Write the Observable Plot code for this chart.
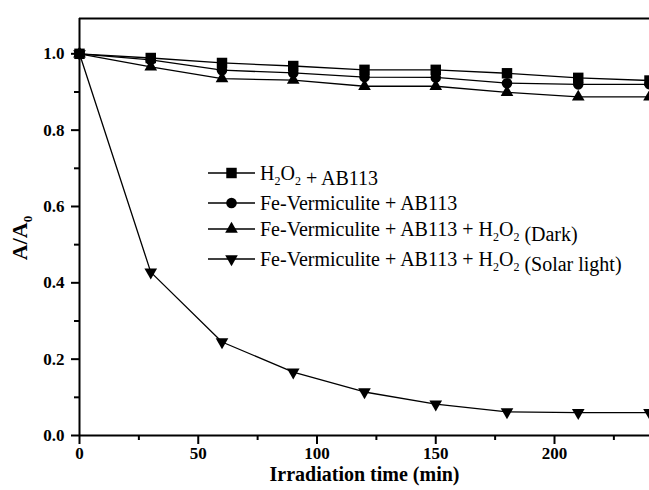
<!DOCTYPE html>
<html>
<head>
<meta charset="utf-8">
<script src="https://cdn.jsdelivr.net/npm/d3@7"></script>
<script src="https://cdn.jsdelivr.net/npm/@observablehq/plot@0.6"></script>
<style>
  html, body { margin: 0; padding: 0; background: #fff; }
  #chart { width: 649px; height: 490px; }
</style>
</head>
<body>
<div id="chart"></div>
<script>
// ---- data ----
const times = [0, 30, 60, 90, 120, 150, 180, 210, 240];
const seriesLabels = [
  "H2O2 + AB113",
  "Fe-Vermiculite + AB113",
  "Fe-Vermiculite + AB113 + H2O2 (Dark)",
  "Fe-Vermiculite + AB113 + H2O2 (Solar light)"
];
const h2o2Ab113        = [1.000, 0.989, 0.976, 0.968, 0.958, 0.958, 0.949, 0.937, 0.930];
const feVermAb113      = [1.000, 0.984, 0.957, 0.950, 0.939, 0.938, 0.923, 0.920, 0.920];
const feVermH2o2Dark   = [1.000, 0.966, 0.935, 0.931, 0.915, 0.915, 0.899, 0.887, 0.887];
const feVermH2o2Solar  = [1.000, 0.428, 0.245, 0.166, 0.114, 0.082, 0.062, 0.060, 0.060];
const xTicks = [0, 50, 100, 150, 200];
const xMinorTicks = [25, 75, 125, 175, 225];
const yTicks = [0.0, 0.2, 0.4, 0.6, 0.8, 1.0];
const yMinorTicks = [0.1, 0.3, 0.5, 0.7, 0.9];
const xTitle = "Irradiation time (min)";
const yTitleMain = "A/A";
const yTitleSub = "0";

// ---- styles ----
const allValues = [h2o2Ab113, feVermAb113, feVermH2o2Dark, feVermH2o2Solar];
const symbols = ["square", "circle", "triangle", "triangle"];
const rotations = [0, 0, 0, 180];
const radii = [5.9, 5.3, 4.7, 4.7];
const FONT = "'Liberation Serif', 'Times New Roman', serif";

const rows = [];
allValues.forEach((vals, s) => vals.forEach((v, i) => rows.push({t: times[i], v, s})));

const yMax = 1.0925;

const svg = Plot.plot({
  width: 649,
  height: 490,
  marginLeft: 79,
  marginRight: 0,
  marginTop: 18,
  marginBottom: 55,
  style: {fontFamily: FONT, fontSize: "17px", fontWeight: "bold", color: "black", background: "white"},
  x: {domain: [0, 240]},
  y: {domain: [0, yMax]},
  marks: [
    Plot.line(rows, {x: "t", y: "v", z: "s", stroke: "black", strokeWidth: 1.3}),
    ...allValues.map((_, s) =>
      Plot.dot(rows.filter(d => d.s === s), {
        x: "t", y: "v", symbol: symbols[s], r: radii[s], rotate: rotations[s],
        fill: "black", stroke: "none"
      })
    ),
    Plot.ruleY([0], {stroke: "black", strokeWidth: 2}),
    Plot.ruleX([0], {stroke: "black", strokeWidth: 2}),
    Plot.ruleY([yMax], {stroke: "black", strokeWidth: 2}),
    Plot.axisX(xTicks, {tickSize: 9, tickPadding: 2, strokeWidth: 2, stroke: "black", fill: "black", label: null, tickFormat: d3.format("d")}),
    Plot.axisX(xMinorTicks, {tickSize: 5, strokeWidth: 2, stroke: "black", fill: "none", label: null}),
    Plot.axisY(yTicks, {tickSize: 8, tickPadding: 7, strokeWidth: 2, stroke: "black", fill: "black", label: null, tickFormat: d3.format(".1f")}),
    Plot.axisY(yMinorTicks, {tickSize: 5, strokeWidth: 2, stroke: "black", fill: "none", label: null}),
    Plot.text([xTitle], {text: d => d, frameAnchor: "bottom", lineAnchor: "middle", dy: 39, fontSize: 20, fontWeight: "bold", fill: "black"})
  ]
});

document.getElementById("chart").appendChild(svg);
const root = d3.select(svg);

// y title with subscript
const yl = root.append("text")
  .attr("transform", "translate(27,238) rotate(-90)")
  .attr("text-anchor", "middle")
  .attr("fill", "black")
  .style("font-family", FONT)
  .style("font-size", "22px")
  .style("font-weight", "bold");
yl.append("tspan").text(yTitleMain);
yl.append("tspan").attr("dy", 5).style("font-size", "13px").text(yTitleSub);

// legend
const legendRowsY = [173, 203, 229, 259];
const legend = root.append("g")
  .attr("text-anchor", "start")
  .style("font-family", FONT)
  .style("font-weight", "normal");
seriesLabels.forEach((label, s) => {
  const y = legendRowsY[s];
  const g = legend.append("g");
  g.append("line").attr("x1", 208).attr("x2", 255).attr("y1", y).attr("y2", y)
    .attr("stroke", "black").attr("stroke-width", 1.3);
  const symType = symbols[s] === "square" ? d3.symbolSquare : symbols[s] === "circle" ? d3.symbolCircle : d3.symbolTriangle;
  g.append("path")
    .attr("d", d3.symbol(symType, Math.PI * radii[s] * radii[s])())
    .attr("transform", `translate(231.5,${y}) rotate(${rotations[s]})`)
    .attr("fill", "black");
  const t = g.append("text").attr("x", 260).attr("y", y + 6.5)
    .attr("text-anchor", "start").attr("fill", "black").style("font-size", "20px");
  const parts = label.split(/(H2O2)/);
  parts.forEach(p => {
    if (p === "H2O2") {
      t.append("tspan").text("H");
      t.append("tspan").attr("dy", 5).style("font-size", "12px").text("2");
      t.append("tspan").attr("dy", -5).text("O");
      t.append("tspan").attr("dy", 5).style("font-size", "12px").text("2");
      t.append("tspan").attr("dy", -5).text("");
    } else if (p.length) {
      t.append("tspan").text(p);
    }
  });
});
</script>
</body>
</html>
